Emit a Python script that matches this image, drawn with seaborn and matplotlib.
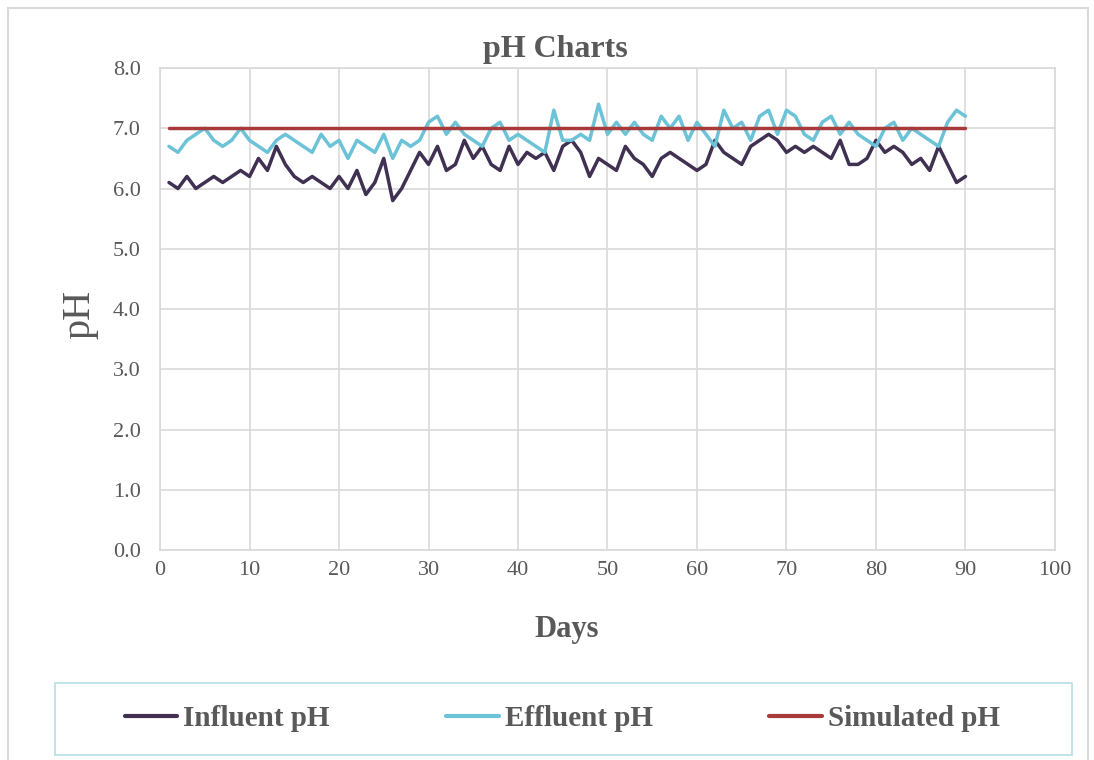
import numpy as np
import pandas as pd
import matplotlib
matplotlib.use("Agg")
import matplotlib.pyplot as plt
import matplotlib.patches as mpatches
from matplotlib.ticker import FormatStrFormatter
import seaborn as sns

# Данные: дни и значения pH
days = list(range(1, 91))

influent_ph = [6.1, 6.0, 6.2, 6.0, 6.1, 6.2, 6.1, 6.2, 6.3, 6.2,
               6.5, 6.3, 6.7, 6.4, 6.2, 6.1, 6.2, 6.1, 6.0, 6.2,
               6.0, 6.3, 5.9, 6.1, 6.5, 5.8, 6.0, 6.3, 6.6, 6.4,
               6.7, 6.3, 6.4, 6.8, 6.5, 6.7, 6.4, 6.3, 6.7, 6.4,
               6.6, 6.5, 6.6, 6.3, 6.7, 6.8, 6.6, 6.2, 6.5, 6.4,
               6.3, 6.7, 6.5, 6.4, 6.2, 6.5, 6.6, 6.5, 6.4, 6.3,
               6.4, 6.8, 6.6, 6.5, 6.4, 6.7, 6.8, 6.9, 6.8, 6.6,
               6.7, 6.6, 6.7, 6.6, 6.5, 6.8, 6.4, 6.4, 6.5, 6.8,
               6.6, 6.7, 6.6, 6.4, 6.5, 6.3, 6.7, 6.4, 6.1, 6.2]

effluent_ph = [6.7, 6.6, 6.8, 6.9, 7.0, 6.8, 6.7, 6.8, 7.0, 6.8,
               6.7, 6.6, 6.8, 6.9, 6.8, 6.7, 6.6, 6.9, 6.7, 6.8,
               6.5, 6.8, 6.7, 6.6, 6.9, 6.5, 6.8, 6.7, 6.8, 7.1,
               7.2, 6.9, 7.1, 6.9, 6.8, 6.7, 7.0, 7.1, 6.8, 6.9,
               6.8, 6.7, 6.6, 7.3, 6.8, 6.8, 6.9, 6.8, 7.4, 6.9,
               7.1, 6.9, 7.1, 6.9, 6.8, 7.2, 7.0, 7.2, 6.8, 7.1,
               6.9, 6.7, 7.3, 7.0, 7.1, 6.8, 7.2, 7.3, 6.9, 7.3,
               7.2, 6.9, 6.8, 7.1, 7.2, 6.9, 7.1, 6.9, 6.8, 6.7,
               7.0, 7.1, 6.8, 7.0, 6.9, 6.8, 6.7, 7.1, 7.3, 7.2]

simulated_ph = [7.0] * 90

series_names = ["Influent pH", "Effluent pH", "Simulated pH"]
colors = ["#403152", "#6CC2D6", "#A83A3A"]

df = pd.concat([
    pd.DataFrame({"Days": days, "pH": influent_ph, "Series": series_names[0]}),
    pd.DataFrame({"Days": days, "pH": effluent_ph, "Series": series_names[1]}),
    pd.DataFrame({"Days": days, "pH": simulated_ph, "Series": series_names[2]}),
])

sns.set_theme(style="white")
plt.rcParams["font.family"] = ["Liberation Serif", "DejaVu Serif"]

fig, ax = plt.subplots(figsize=(10.94, 7.60), dpi=100)
fig.subplots_adjust(left=0.1463, right=0.9643, top=0.9105, bottom=0.2763)

sns.lineplot(data=df, x="Days", y="pH", hue="Series", hue_order=series_names,
             palette=colors, linewidth=2.5, ax=ax, legend=False)

ax.set_xlim(0, 100)
ax.set_ylim(0, 8)
ax.set_xticks(range(0, 101, 10))
ax.set_yticks(np.arange(0, 8.1, 1.0))
ax.yaxis.set_major_formatter(FormatStrFormatter("%.1f"))
ax.grid(True, color="#D9D9D9", linewidth=1.2)
ax.set_axisbelow(True)
for s in ax.spines.values():
    s.set_color("#D9D9D9")
    s.set_linewidth(1.2)
ax.tick_params(axis="both", length=0, labelsize=16, labelcolor="#595959")
ax.tick_params(axis="x", pad=8)
ax.tick_params(axis="y", pad=14)
ax.set_xlabel("")
ax.set_ylabel("")

# Подписи
fig.text(0.508, 1 - 49 / 760, "pH Charts", ha="center", va="center",
         fontsize=23, fontweight="bold", color="#595959")
fig.text(0.518, 1 - 630 / 760, "Days", ha="center", va="center",
         fontsize=22, fontweight="bold", color="#595959")
fig.text(0.073, 1 - 314 / 760, "pH", ha="center", va="center", rotation=90,
         fontsize=29, color="#595959")

# Рамка легенды
fig.patches.append(mpatches.Rectangle((55 / 1094, 1 - 755 / 760), 1017 / 1094, 72 / 760,
                                      transform=fig.transFigure, fill=False,
                                      edgecolor="#B7DEE8", linewidth=1.2))

# Легенда
handles = [plt.Line2D([0], [0], color=c, linewidth=3) for c in colors]
leg = fig.legend(handles, series_names, loc="center",
                 bbox_to_anchor=(0.514, 1 - 719 / 760),
                 ncol=3, frameon=False, borderaxespad=0,
                 handlelength=1.8, handletextpad=0.2, columnspacing=4.0,
                 prop={"size": 21, "weight": "bold"})
for t in leg.get_texts():
    t.set_color("#595959")

# Рамка области диаграммы
fig.patches.append(mpatches.Rectangle((8 / 1094, -0.01), 1080 / 1094, 1 - 8 / 760 + 0.01,
                                      transform=fig.transFigure, fill=False,
                                      edgecolor="#D9D9D9", linewidth=1.5))

plt.savefig("out.png", dpi=100)
